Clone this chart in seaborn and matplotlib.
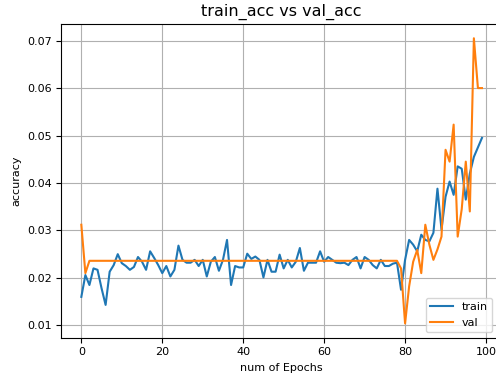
import numpy as np
import pandas as pd
import matplotlib
matplotlib.use("Agg")
import matplotlib.pyplot as plt
import seaborn as sns

epochs = list(range(100))

train_acc = [
    0.0160, 0.0206, 0.0185, 0.0220, 0.0217, 0.0178, 0.0143, 0.0213, 0.0227, 0.0250,
    0.0231, 0.0225, 0.0217, 0.0223, 0.0244, 0.0234, 0.0217, 0.0256, 0.0242, 0.0227,
    0.0210, 0.0225, 0.0203, 0.0217, 0.0268, 0.0238, 0.0232, 0.0232, 0.0238, 0.0225,
    0.0238, 0.0203, 0.0234, 0.0244, 0.0215, 0.0238, 0.0280, 0.0185, 0.0225, 0.0222,
    0.0222, 0.0251, 0.0240, 0.0245, 0.0238, 0.0201, 0.0238, 0.0213, 0.0213, 0.0249,
    0.0220, 0.0238, 0.0222, 0.0234, 0.0263, 0.0215, 0.0232, 0.0232, 0.0232, 0.0256,
    0.0234, 0.0244, 0.0238, 0.0232, 0.0231, 0.0232, 0.0227, 0.0238, 0.0244, 0.0220,
    0.0244, 0.0238, 0.0227, 0.0220, 0.0238, 0.0225, 0.0225, 0.0230, 0.0232, 0.0175,
    0.0238, 0.0280, 0.0270, 0.0256, 0.0291, 0.0280, 0.0277, 0.0295, 0.0388, 0.0302,
    0.0371, 0.0403, 0.0375, 0.0435, 0.0430, 0.0365, 0.0420, 0.0455, 0.0475, 0.0495,
]

val_acc = [0.0312, 0.0210] + [0.0236] * 77 + [
    0.0220,
    0.0104, 0.0182, 0.0234, 0.0259, 0.0210, 0.0312, 0.0270, 0.0238, 0.0260, 0.0287,
    0.0470, 0.0445, 0.0523, 0.0287, 0.0345, 0.0445, 0.0340, 0.0705, 0.0600, 0.0600,
]

df = pd.DataFrame({
    "epoch": epochs * 2,
    "acc": train_acc + val_acc,
    "series": ["train"] * 100 + ["val"] * 100,
})

fig = plt.figure(figsize=(4.96, 3.78), dpi=100)
ax = fig.add_axes([61.3 / 496, 1 - 337.7 / 378, 440.7 / 496, (337.7 - 24) / 378])
sns.lineplot(data=df, x="epoch", y="acc", hue="series",
             palette=["#1f77b4", "#ff7f0e"], ax=ax, linewidth=1.5)
ax.grid(True, color="#b0b0b0", linewidth=0.8)
ax.set_title("train_acc vs val_acc", fontsize=11.5)
ax.set_xlabel("num of Epochs", fontsize=8)
ax.set_ylabel("accuracy", fontsize=8)
ax.tick_params(labelsize=8)
ax.legend(loc="lower right", fontsize=8, bbox_to_anchor=(0.99, 0.0))
fig.savefig("out.png", dpi=100)
